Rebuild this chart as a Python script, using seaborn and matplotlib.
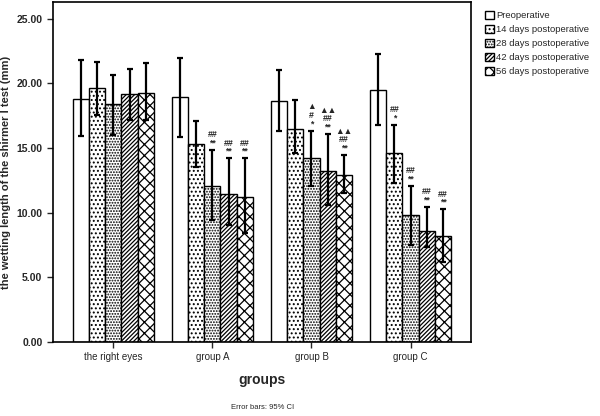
import pandas as pd
import seaborn as sns
import matplotlib.pyplot as plt
from matplotlib.patches import Patch

groups = ["the right eyes", "group A", "group B", "group C"]
timepoints = ["Preoperative", "14 days postoperative", "28 days postoperative",
              "42 days postoperative", "56 days postoperative"]

# mean wetting length (mm), one list per group, in timepoint order
right_eyes = [18.8, 19.65, 18.4, 19.15, 19.3]
group_a = [18.95, 15.3, 12.1, 11.45, 11.2]
group_b = [18.65, 16.5, 14.2, 13.25, 12.9]
group_c = [19.5, 14.6, 9.8, 8.6, 8.2]

# 95% CI bounds
ci_low_right = [15.9, 17.6, 16.0, 17.2, 17.2]
ci_low_a = [15.85, 13.5, 9.4, 9.05, 8.4]
ci_low_b = [16.3, 14.6, 12.1, 10.6, 11.5]
ci_low_c = [16.8, 12.3, 7.5, 7.35, 6.2]
ci_high_right = [21.8, 21.7, 20.65, 21.15, 21.6]
ci_high_a = [22.0, 17.1, 14.85, 14.2, 14.2]
ci_high_b = [21.05, 18.7, 16.35, 16.1, 14.45]
ci_high_c = [22.25, 16.8, 12.05, 10.45, 10.25]

# significance marks: (group index, timepoint index, text)
marks = [
    (1, 2, "##\n**"), (1, 3, "##\n**"), (1, 4, "##\n**"),
    (2, 2, "▲\n#\n*"), (2, 3, "▲▲\n##\n**"), (2, 4, "▲▲\n##\n**"),
    (3, 1, "##\n*"), (3, 2, "##\n**"), (3, 3, "##\n**"), (3, 4, "##\n**"),
]

hatches = ["", "....", "......", "////////", "xxx"]

means = [right_eyes, group_a, group_b, group_c]
lows = [ci_low_right, ci_low_a, ci_low_b, ci_low_c]
highs = [ci_high_right, ci_high_a, ci_high_b, ci_high_c]

rows = []
for g, vals in zip(groups, means):
    for t, v in zip(timepoints, vals):
        rows.append({"group": g, "time": t, "value": v})
df = pd.DataFrame(rows)

sns.set_style("white")
plt.rcParams['font.family'] = ['Liberation Sans', 'DejaVu Sans']
plt.rcParams['hatch.linewidth'] = 0.9

fig = plt.figure(figsize=(6, 4.16), dpi=100, facecolor='white')
ax = fig.add_axes([0.088, 0.178, 0.697, 0.817])

sns.barplot(data=df, x="group", y="value", hue="time", order=groups, hue_order=timepoints,
            palette=["white"] * 5, edgecolor="black", linewidth=1.0, width=0.82,
            errorbar=None, legend=False, ax=ax)

bar_containers = list(ax.containers)
centers = {}
for ti, cont in enumerate(bar_containers):
    for gi, bar in enumerate(cont.patches):
        bar.set_hatch(hatches[ti])
        bar.set_edgecolor("black")
        x = bar.get_x() + bar.get_width() / 2
        centers[(gi, ti)] = x
        m = means[gi][ti]
        ax.errorbar(x, m, yerr=[[m - lows[gi][ti]], [highs[gi][ti] - m]],
                    fmt='none', ecolor='black', elinewidth=1.6, capsize=2.5, capthick=1.6)

for gi, ti, txt in marks:
    ax.text(centers[(gi, ti)], highs[gi][ti] + 0.2, txt, ha='center', va='bottom',
            fontsize=6.3, fontweight='bold', linespacing=0.9)

ax.set_ylim(0, 26.3)
ax.set_xlim(-0.61, 3.61)
ax.set_yticks([0, 5, 10, 15, 20, 25])
ax.set_yticklabels(["%.2f" % v for v in [0, 5, 10, 15, 20, 25]], fontsize=7.5, fontweight='bold')
ax.tick_params(axis='x', labelsize=7, length=4, width=1, direction='out', bottom=True)
ax.tick_params(axis='y', length=4, width=1, direction='out', left=True)
for s in ax.spines.values():
    s.set_color('black')
    s.set_linewidth(1.2)

ax.set_xlabel("groups", fontsize=10, fontweight='bold', labelpad=8)
ax.set_ylabel("the wetting length of the shirmer I test (mm)", fontsize=8, fontweight='bold')

handles = [Patch(facecolor='white', edgecolor='black', hatch=h, label=t)
           for h, t in zip(hatches, timepoints)]
ax.legend(handles=handles, loc='upper left', bbox_to_anchor=(1.02, 0.99), frameon=False,
          fontsize=6.8, handlelength=0.9, handleheight=0.9, handletextpad=0.25,
          labelspacing=0.5, borderaxespad=0.2)

fig.text(0.437, 0.02, "Error bars: 95% CI", fontsize=5.5, ha='center', va='center')

fig.savefig("out.png", dpi=100, facecolor='white')
